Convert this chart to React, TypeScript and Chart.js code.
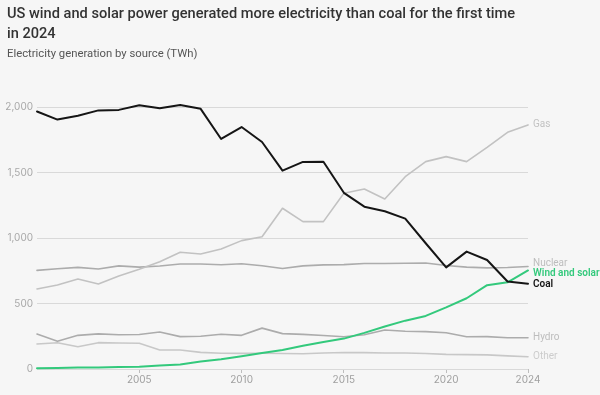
import React, { useEffect, useRef } from "react";
import { Chart, registerables } from "chart.js";

Chart.register(...registerables);

const years = [
  "2000", "2001", "2002", "2003", "2004", "2005", "2006", "2007", "2008", "2009",
  "2010", "2011", "2012", "2013", "2014", "2015", "2016", "2017", "2018", "2019",
  "2020", "2021", "2022", "2023", "2024",
];
const coal = [1966, 1904, 1933, 1974, 1978, 2013, 1991, 2016, 1986, 1756, 1847, 1733, 1514, 1581, 1582, 1345, 1239, 1204, 1148, 960, 776, 896, 832, 668, 651];
const windSolar = [6, 7, 11, 12, 15, 18, 27, 35, 57, 75, 97, 122, 145, 177, 206, 232, 276, 325, 369, 405, 470, 540, 640, 662, 752];
const gas = [611, 641, 687, 649, 710, 761, 819, 891, 878, 916, 980, 1010, 1227, 1125, 1125, 1341, 1374, 1298, 1468, 1583, 1621, 1583, 1692, 1807, 1863];
const nuclear = [753, 765, 776, 763, 787, 778, 786, 801, 801, 796, 803, 788, 767, 787, 795, 797, 805, 805, 807, 809, 790, 778, 772, 775, 782];
const hydro = [267, 212, 257, 268, 262, 263, 282, 247, 250, 265, 257, 312, 270, 264, 256, 246, 262, 298, 288, 285, 277, 246, 247, 239, 238];
const other = [191, 200, 170, 201, 198, 196, 145, 145, 127, 120, 119, 120, 118, 116, 122, 126, 125, 122, 122, 118, 112, 110, 108, 100, 94];

const tickYears = ["2005", "2010", "2015", "2020", "2024"];
const yTicks = [0, 500, 1000, 1500, 2000];

const FONT = "Inter, 'Noto Sans', sans-serif";
const TFONT = "Roboto, 'Liberation Sans', sans-serif";
const BG = "#f6f6f6";

export default function App() {
  const ref = useRef<HTMLCanvasElement | null>(null);

  useEffect(() => {
    document.body.style.margin = "0";
    document.body.style.background = BG;
    if (!ref.current) return;

    const series = [
      { label: "Coal", data: coal, color: "#151515", labelColor: "#151515", bold: true, width: 2 },
      { label: "Wind and solar", data: windSolar, color: "#33c97c", labelColor: "#33c97c", bold: true, width: 2 },
      { label: "Gas", data: gas, color: "#c2c2c2", labelColor: "#c2c2c2", bold: false, width: 1.6 },
      { label: "Nuclear", data: nuclear, color: "#acacac", labelColor: "#bdbdbd", bold: false, width: 1.6 },
      { label: "Hydro", data: hydro, color: "#acacac", labelColor: "#bdbdbd", bold: false, width: 1.6 },
      { label: "Other", data: other, color: "#c8c8c8", labelColor: "#cccccc", bold: false, width: 1.6 },
    ];

    const endLabels = {
      id: "endLabels",
      afterDatasetsDraw(chart: any) {
        const { ctx, chartArea } = chart;
        const ys = chart.scales.y;
        const gap = 10.5;
        const items = series.map((s) => ({
          s,
          y0: ys.getPixelForValue(s.data[s.data.length - 1]),
          y: 0,
        }));
        items.sort((a, b) => a.y0 - b.y0);
        const groups: any[][] = items.map((it) => [it]);
        const place = (g: any[]) => {
          const mean = g.reduce((a, b) => a + b.y0, 0) / g.length;
          const start = mean - ((g.length - 1) * gap) / 2;
          g.forEach((it, i) => (it.y = start + i * gap));
        };
        groups.forEach(place);
        let changed = true;
        while (changed) {
          changed = false;
          for (let i = 0; i < groups.length - 1; i++) {
            const a = groups[i];
            const b = groups[i + 1];
            if (b[0].y - a[a.length - 1].y < gap) {
              const m = a.concat(b);
              place(m);
              groups.splice(i, 2, m);
              changed = true;
              break;
            }
          }
        }
        ctx.save();
        ctx.textBaseline = "middle";
        ctx.textAlign = "left";
        items.forEach((it) => {
          ctx.font = `${it.s.bold ? "600" : "400"} 10px ${TFONT}`;
          ctx.fillStyle = it.s.labelColor;
          ctx.fillText(it.s.label, chartArea.right + 5, it.y);
        });
        ctx.restore();
      },
    };

    const chart = new Chart(ref.current, {
      type: "line",
      data: {
        labels: years,
        datasets: series.map((s) => ({
          label: s.label,
          data: s.data,
          borderColor: s.color,
          backgroundColor: s.color,
          borderWidth: s.width,
          pointRadius: 0,
          tension: 0,
          fill: false,
          clip: false as any,
          borderJoinStyle: "round" as const,
          borderCapStyle: "round" as const,
        })),
      },
      options: {
        animation: false,
        responsive: false,
        layout: { padding: { top: 107, right: 72, left: 0, bottom: 0 } },
        plugins: {
          legend: { display: false },
          tooltip: { enabled: false },
          title: { display: false },
        },
        scales: {
          x: {
            type: "category",
            offset: false,
            border: { display: false },
            grid: {
              drawOnChartArea: false,
              drawTicks: true,
              tickLength: 4,
              color: (c: any) => (tickYears.includes(years[c.index]) ? "#bdbdbd" : "rgba(0,0,0,0)"),
            },
            ticks: {
              autoSkip: false,
              maxRotation: 0,
              padding: 1,
              color: "#a0a0a0",
              font: { family: FONT, size: 10 },
              callback: (_v: any, i: number) => (tickYears.includes(years[i]) ? years[i] : ""),
            },
            afterFit: (s: any) => {
              s.height = 26;
            },
          },
          y: {
            min: 0,
            max: 2000,
            afterBuildTicks: (s: any) => {
              s.ticks = yTicks.map((v) => ({ value: v }));
            },
            border: { display: false },
            grid: { color: "#d9d9d9", drawTicks: false, lineWidth: 1 },
            ticks: {
              padding: 4,
              color: "#a8a8a8",
              font: { family: FONT, size: 10 },
              callback: (v: any) => Number(v).toLocaleString("en-US"),
            },
            afterFit: (s: any) => {
              s.width = 37;
            },
          },
        },
      },
      plugins: [endLabels],
    });
    return () => chart.destroy();
  }, []);

  return (
    <div style={{ position: "relative", width: 600, height: 395, background: BG, overflow: "hidden" }}>
      <canvas ref={ref} width={600} height={395} style={{ position: "absolute", left: 0, top: 0, display: "block" }} />
      <div
        style={{
          position: "absolute",
          left: 7,
          top: 3,
          fontFamily: TFONT,
          fontSize: 14.6,
          fontWeight: 500,
          lineHeight: "20px",
          color: "#333",
          whiteSpace: "nowrap",
        }}
      >
        <div>US wind and solar power generated more electricity than coal for the first time</div>
        <div>in 2024</div>
      </div>
      <div
        style={{
          position: "absolute",
          left: 7,
          top: 47,
          fontFamily: TFONT,
          fontSize: 11.3,
          fontWeight: 400,
          color: "#555",
          whiteSpace: "nowrap",
        }}
      >
        Electricity generation by source (TWh)
      </div>
    </div>
  );
}
